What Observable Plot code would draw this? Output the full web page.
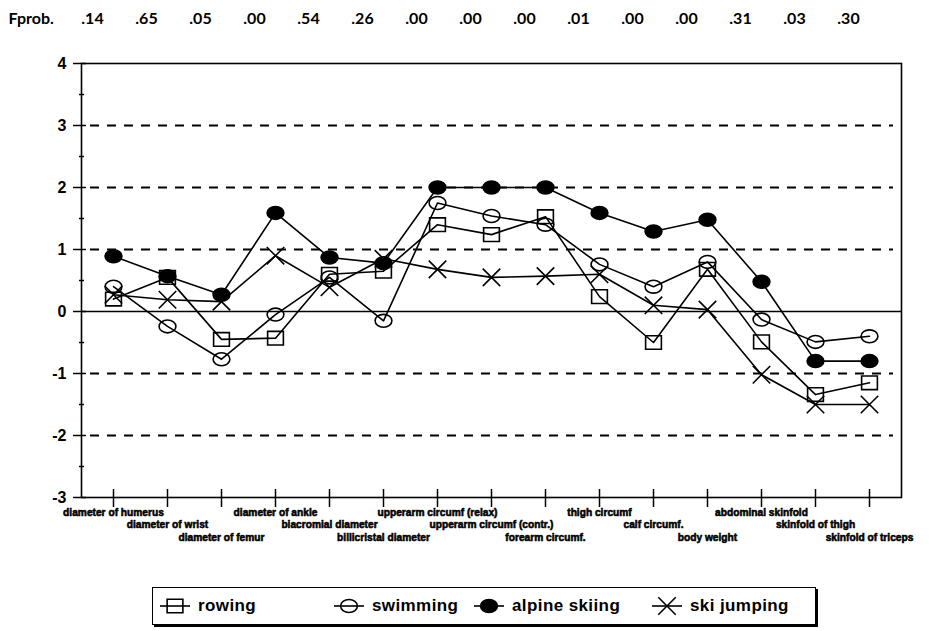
<!DOCTYPE html>
<html>
<head>
<meta charset="utf-8">
<script src="https://cdn.jsdelivr.net/npm/d3@7"></script>
<script src="https://cdn.jsdelivr.net/npm/@observablehq/plot@0.6"></script>
<style>
  html, body { margin: 0; padding: 0; background: #fff; }
  #wrap { position: relative; width: 929px; height: 631px; font-family: "Liberation Sans", Arial, sans-serif; }
  #legend { position: absolute; left: 152px; top: 587px; width: 662px; height: 36px; border: 1.5px solid #000; box-shadow: 2px 2px 0 #000; background: #fff; }
  .item { position: absolute; top: 0; height: 36px; display: flex; align-items: center; font-weight: bold; font-size: 17px; letter-spacing: 0.4px; color: #000; }
  .item svg { margin-right: 7px; }
  #chart svg g[aria-label="y-axis tick label"] text { font-weight: bold; }
</style>
</head>
<body>
<div id="wrap">
  <div id="chart"></div>
  <div id="legend"></div>
</div>
<script>
const categories = [
  "diameter of humerus", "diameter of wrist", "diameter of femur", "diameter of ankle",
  "biacromial diameter", "billicristal diameter", "upperarm circumf (relax)",
  "upperarm circumf (contr.)", "forearm circumf.", "thigh circumf", "calf circumf.",
  "body weight", "abdominal skinfold", "skinfold of thigh", "skinfold of triceps"
];
const fprob = [".14", ".65", ".05", ".00", ".54", ".26", ".00", ".00", ".00", ".01", ".00", ".00", ".31", ".03", ".30"];
const seriesNames = ["rowing", "swimming", "alpine skiing", "ski jumping"];
const rowing     = [0.20, 0.55, -0.45, -0.43, 0.60, 0.65, 1.40, 1.24, 1.53, 0.24, -0.50, 0.68, -0.49, -1.34, -1.15];
const swimming   = [0.40, -0.24, -0.77, -0.05, 0.55, -0.15, 1.75, 1.54, 1.40, 0.76, 0.40, 0.80, -0.13, -0.49, -0.40];
const alpine     = [0.89, 0.57, 0.27, 1.59, 0.87, 0.78, 2.00, 2.00, 2.00, 1.59, 1.29, 1.48, 0.48, -0.80, -0.80];
const skiJumping = [0.27, 0.19, 0.16, 0.90, 0.39, 0.85, 0.68, 0.55, 0.57, 0.60, 0.10, 0.03, -1.02, -1.50, -1.50];
const yTicks = [-3, -2, -1, 0, 1, 2, 3, 4];
const yMinor = [-2.5, -1.5, -0.5, 0.5, 1.5, 2.5, 3.5];
const gridDashed = [-2, -1, 1, 2, 3];

const seriesValues = [rowing, swimming, alpine, skiJumping];
const table = [];
seriesNames.forEach((s, si) => seriesValues[si].forEach((v, i) => table.push({series: s, cat: categories[i], value: v})));

const W = 929, H = 560, mT = 63, mB = 63, mL = 81, mR = 28;
const plotW = W - mL - mR, plotH = H - mT - mB;
const labelFont = {fontSize: 10.2, fontWeight: "bold", fontFamily: "Liberation Sans, Arial, sans-serif", stroke: "black", strokeWidth: 0.55, fill: "black"};

// ellipse-shaped symbol (slightly wider than tall, like the reference markers)
const ellipse = {
  draw(context, size) {
    const r = Math.sqrt(size / Math.PI), rx = r * 1.12, ry = r * 0.86, k = 0.5523;
    context.moveTo(rx, 0);
    context.bezierCurveTo(rx, ry * k, rx * k, ry, 0, ry);
    context.bezierCurveTo(-rx * k, ry, -rx, ry * k, -rx, 0);
    context.bezierCurveTo(-rx, -ry * k, -rx * k, -ry, 0, -ry);
    context.bezierCurveTo(rx * k, -ry, rx, -ry * k, rx, 0);
    context.closePath();
  }
};
const rect = {
  draw(context, size) {
    const r = Math.sqrt(size / Math.PI), hx = r * 0.95, hy = r * 0.82;
    context.moveTo(-hx, -hy); context.lineTo(hx, -hy); context.lineTo(hx, hy); context.lineTo(-hx, hy); context.closePath();
  }
};
const symbols = {"rowing": {symbol: rect, r: 8.3, fill: "none"}, "swimming": {symbol: ellipse, r: 7.5, fill: "none"},
  "alpine skiing": {symbol: ellipse, r: 7.5, fill: "black"}, "ski jumping": {symbol: d3.symbolTimes, r: 8, fill: "none"}};

const chart = Plot.plot({
  width: W, height: H, marginTop: mT, marginBottom: mB, marginLeft: mL, marginRight: mR,
  style: {fontFamily: "Liberation Sans, Arial, sans-serif", color: "black", background: "white", overflow: "visible"},
  x: {type: "point", domain: categories, padding: 0.5, axis: null},
  y: {domain: [-3, 4], axis: null},
  marks: [
    Plot.ruleY(gridDashed, {stroke: "black", strokeWidth: 2, strokeDasharray: "9,8", insetLeft: 9, insetRight: 8}),
    Plot.ruleY([0], {stroke: "black", strokeWidth: 1.5}),
    Plot.ruleY(yTicks, {stroke: "black", strokeWidth: 1.5, insetLeft: -8, insetRight: plotW - 5}),
    Plot.ruleY(yMinor, {stroke: "black", strokeWidth: 1.5, insetLeft: -2, insetRight: plotW - 3}),
    Plot.ruleX(categories, {stroke: "black", strokeWidth: 1.5, insetTop: plotH - 8, insetBottom: -10}),
    Plot.frame({stroke: "black", strokeWidth: 1.6}),
    Plot.axisY({ticks: yTicks, tickSize: 0, tickPadding: 15, fontSize: 16, label: null, tickFormat: d => String(d)}),
    Plot.line(table, {x: "cat", y: "value", z: "series", stroke: "black", strokeWidth: 1.6}),
    ...seriesNames.map(s => Plot.dot(table.filter(d => d.series === s), {
      x: "cat", y: "value", symbol: symbols[s].symbol, r: symbols[s].r, fill: symbols[s].fill,
      stroke: "black", strokeWidth: 1.6
    })),
    ...[0, 1, 2].map(k => Plot.text(categories.filter((c, i) => i % 3 === k), {
      x: d => d, text: d => d, frameAnchor: "bottom", dy: 15 + k * 12.5, lineAnchor: "middle", ...labelFont
    })),
    Plot.text(categories, {x: d => d, text: (d, i) => fprob[i], frameAnchor: "top", dy: -45, dx: -21,
      fontSize: 16, fontWeight: "bold", fontFamily: "Lato, sans-serif", lineAnchor: "middle"}),
    Plot.text(["Fprob."], {text: d => d, frameAnchor: "top-left", dx: -73, dy: -45, textAnchor: "start",
      fontSize: 16, fontWeight: "bold", fontFamily: "Lato, sans-serif", lineAnchor: "middle"})
  ]
});
document.getElementById("chart").appendChild(chart);

// legend
const legendPos = [{s: "rowing", left: 6}, {s: "swimming", left: 180}, {s: "alpine skiing", left: 320}, {s: "ski jumping", left: 498}];
const leg = document.getElementById("legend");
legendPos.forEach(({s, left}) => {
  const div = document.createElement("div");
  div.className = "item";
  div.style.left = left + "px";
  const sym = symbols[s];
  const svg = d3.create("svg").attr("width", 32).attr("height", 20);
  svg.append("line").attr("x1", 1).attr("x2", 31).attr("y1", 10).attr("y2", 10).attr("stroke", "black").attr("stroke-width", 1.6);
  svg.append("path").attr("transform", "translate(16,10)")
    .attr("d", d3.symbol(sym.symbol, Math.PI * sym.r * sym.r)())
    .attr("fill", sym.fill).attr("stroke", "black").attr("stroke-width", 1.6);
  div.appendChild(svg.node());
  const span = document.createElement("span");
  span.textContent = s;
  div.appendChild(span);
  leg.appendChild(div);
});
</script>
</body>
</html>
